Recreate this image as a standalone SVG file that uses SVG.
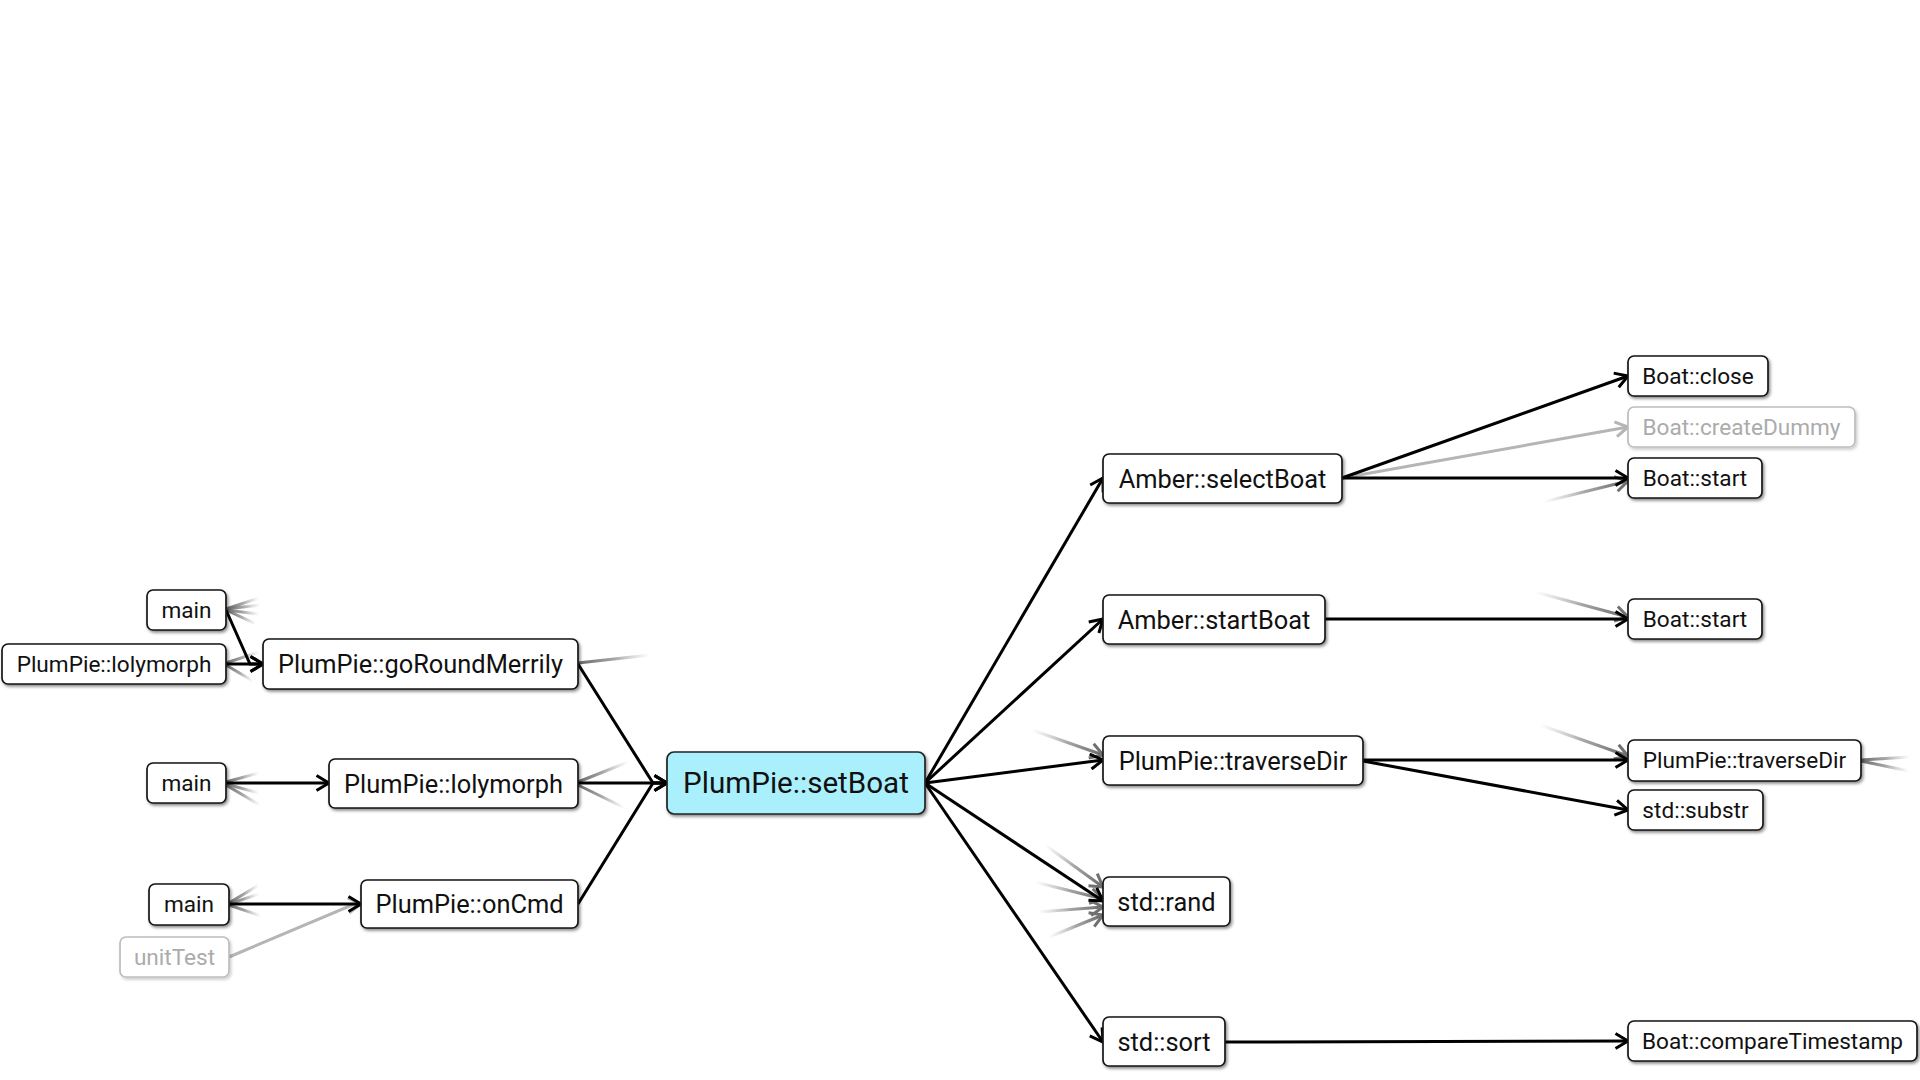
<svg xmlns="http://www.w3.org/2000/svg" width="1920" height="1080" viewBox="0 0 1920 1080">
<defs>
<style>
.n rect{fill:#fff;stroke:#161616;stroke-width:1.7;filter:url(#sh)}
.n text{font-family:Roboto,"Liberation Sans",sans-serif;fill:#111;text-anchor:middle;dominant-baseline:central}
.s text{font-size:22.6px}
.b text{font-size:25.4px}
.c rect{fill:#aaf0fc;stroke:#222}
.c text{font-size:29.6px}
.g rect{stroke:#bdbdbd;filter:url(#shg)}
.g text{fill:#ababab}
.e{stroke:#000;stroke-width:3;fill:none;stroke-linejoin:miter;marker-end:url(#ah)}
.ge{stroke:#b5b5b5;stroke-width:3;fill:none;marker-end:url(#ahg)}
.so{stroke:url(#fadeR);stroke-width:3;fill:none}
.si{stroke:url(#fadeL);stroke-width:3;fill:none;marker-end:url(#ahs)}
</style>
<filter id="sh" x="-10%" y="-20%" width="120%" height="150%">
<feDropShadow dx="1.5" dy="2" stdDeviation="1.4" flood-color="#000" flood-opacity="0.45"/>
</filter>
<filter id="shg" x="-10%" y="-20%" width="120%" height="150%">
<feDropShadow dx="1.5" dy="2" stdDeviation="1.4" flood-color="#000" flood-opacity="0.2"/>
</filter>
<linearGradient id="fadeR" x1="0" y1="0" x2="1" y2="0">
<stop offset="0" stop-color="#666" stop-opacity="1"/>
<stop offset="0.5" stop-color="#888" stop-opacity="0.75"/>
<stop offset="1" stop-color="#aaa" stop-opacity="0"/>
</linearGradient>
<linearGradient id="fadeL" x1="0" y1="0" x2="1" y2="0">
<stop offset="0" stop-color="#aaa" stop-opacity="0"/>
<stop offset="0.5" stop-color="#888" stop-opacity="0.75"/>
<stop offset="1" stop-color="#666" stop-opacity="1"/>
</linearGradient>
<marker id="ah" markerUnits="userSpaceOnUse" viewBox="0 0 16 18" markerWidth="16" markerHeight="18" refX="14" refY="9" orient="auto">
<path d="M1.5,1.5 L14,9 L1.5,16.5" fill="none" stroke="#000" stroke-width="3"/>
</marker>
<marker id="ahg" markerUnits="userSpaceOnUse" viewBox="0 0 16 18" markerWidth="16" markerHeight="18" refX="14" refY="9" orient="auto">
<path d="M1.5,1.5 L14,9 L1.5,16.5" fill="none" stroke="#b5b5b5" stroke-width="3"/>
</marker>
<marker id="ahs" markerUnits="userSpaceOnUse" viewBox="0 0 16 18" markerWidth="16" markerHeight="18" refX="14" refY="9" orient="auto">
<path d="M1.5,1.5 L14,9 L1.5,16.5" fill="none" stroke="#707070" stroke-width="3"/>
</marker>
</defs>
<rect width="1920" height="1080" fill="#fff"/>

<g id="connectors">
<line class="so" x1="226" y1="609" x2="259" y2="598"/>
<line class="so" x1="226" y1="609" x2="260" y2="605"/>
<line class="so" x1="226" y1="610" x2="259" y2="614"/>
<line class="so" x1="226" y1="610" x2="256" y2="624"/>
<line class="so" x1="226" y1="663" x2="259" y2="652"/>
<line class="so" x1="226" y1="665" x2="253" y2="681"/>
<line class="so" x1="226" y1="782" x2="259" y2="773"/>
<line class="so" x1="226" y1="784" x2="259" y2="793"/>
<line class="so" x1="226" y1="785" x2="260" y2="805"/>
<line class="so" x1="229" y1="903" x2="259" y2="885"/>
<line class="so" x1="229" y1="904" x2="259" y2="894"/>
<line class="so" x1="229" y1="905" x2="261" y2="916"/>
<line class="so" x1="578" y1="663" x2="650" y2="655"/>
<line class="so" x1="578" y1="782" x2="628" y2="762"/>
<line class="so" x1="578" y1="785" x2="625" y2="808"/>
<line class="so" x1="1861" y1="760" x2="1910" y2="757"/>
<line class="so" x1="1861" y1="761" x2="1909" y2="771"/>
<line class="si" x1="1032" y1="730" x2="1103" y2="755"/>
<line class="si" x1="1045" y1="845" x2="1103" y2="887"/>
<line class="si" x1="1035" y1="882" x2="1103" y2="899"/>
<line class="si" x1="1038" y1="912" x2="1103" y2="907"/>
<line class="si" x1="1049" y1="937" x2="1103" y2="915"/>
<line class="si" x1="1543" y1="502" x2="1628" y2="481"/>
<line class="si" x1="1535" y1="592" x2="1628" y2="617"/>
<line class="si" x1="1540" y1="725" x2="1628" y2="756"/>
<polyline class="ge" points="229,957 352,905 361,904"/>
<line class="ge" x1="1342" y1="478" x2="1628" y2="427"/>
<polyline class="e" points="226,610 250,664 263,664"/>
<line class="e" x1="226" y1="664" x2="263" y2="664"/>
<line class="e" x1="226" y1="783" x2="329" y2="783"/>
<line class="e" x1="229" y1="904" x2="361" y2="904"/>
<polyline class="e" points="578,664 653,783 667,783"/>
<line class="e" x1="578" y1="783" x2="667" y2="783"/>
<polyline class="e" points="578,904 653,783 667,783"/>
<line class="e" x1="925" y1="783" x2="1103" y2="478"/>
<line class="e" x1="925" y1="783" x2="1103" y2="619"/>
<line class="e" x1="925" y1="783" x2="1103" y2="760"/>
<line class="e" x1="925" y1="783" x2="1103" y2="901"/>
<line class="e" x1="925" y1="783" x2="1103" y2="1042"/>
<line class="e" x1="1342" y1="478" x2="1628" y2="376"/>
<line class="e" x1="1342" y1="478" x2="1628" y2="478"/>
<line class="e" x1="1325" y1="619" x2="1628" y2="619"/>
<line class="e" x1="1363" y1="760" x2="1628" y2="760"/>
<line class="e" x1="1363" y1="761" x2="1628" y2="810"/>
<line class="e" x1="1225" y1="1042" x2="1628" y2="1041"/>
</g>

<g id="n_main1" class="n s"><rect x="147" y="590" width="79" height="40" rx="6"/><text x="186.5" y="610">main</text></g>
<g id="n_lolymorph_left" class="n s"><rect x="2" y="644" width="224" height="40" rx="6"/><text x="114" y="664">PlumPie::lolymorph</text></g>
<g id="n_goRoundMerrily" class="n b"><rect x="263" y="639" width="315" height="50" rx="6"/><text x="420.5" y="664">PlumPie::goRoundMerrily</text></g>
<g id="n_main2" class="n s"><rect x="147" y="763" width="79" height="40" rx="6"/><text x="186.5" y="783">main</text></g>
<g id="n_lolymorph_mid" class="n b"><rect x="329" y="759" width="249" height="49" rx="6"/><text x="453.5" y="783.5">PlumPie::lolymorph</text></g>
<g id="n_main3" class="n s"><rect x="149" y="884" width="80" height="41" rx="6"/><text x="189" y="904.5">main</text></g>
<g id="n_unitTest" class="n s g"><rect x="120" y="937" width="109" height="40" rx="6"/><text x="174.5" y="957">unitTest</text></g>
<g id="n_onCmd" class="n b"><rect x="361" y="880" width="217" height="48" rx="6"/><text x="469.5" y="904">PlumPie::onCmd</text></g>

<g id="n_setBoat" class="n c"><rect x="667" y="752" width="258" height="62" rx="7"/><text x="796" y="783">PlumPie::setBoat</text></g>

<g id="n_selectBoat" class="n b"><rect x="1103" y="454" width="239" height="49" rx="6"/><text x="1222.5" y="478.5">Amber::selectBoat</text></g>
<g id="n_startBoat" class="n b"><rect x="1103" y="595" width="222" height="49" rx="6"/><text x="1214" y="619.5">Amber::startBoat</text></g>
<g id="n_traverseDir_mid" class="n b"><rect x="1103" y="736" width="260" height="49" rx="6"/><text x="1233" y="760.5">PlumPie::traverseDir</text></g>
<g id="n_rand" class="n b"><rect x="1103" y="877" width="127" height="49" rx="6"/><text x="1166.5" y="901.5">std::rand</text></g>
<g id="n_sort" class="n b"><rect x="1103" y="1017" width="122" height="49" rx="6"/><text x="1164" y="1041.5">std::sort</text></g>

<g id="n_close" class="n s"><rect x="1628" y="356" width="140" height="40" rx="6"/><text x="1698" y="376">Boat::close</text></g>
<g id="n_createDummy" class="n s g"><rect x="1628" y="407" width="227" height="40" rx="6"/><text x="1741.5" y="427">Boat::createDummy</text></g>
<g id="n_start1" class="n s"><rect x="1628" y="458" width="134" height="40" rx="6"/><text x="1695" y="478">Boat::start</text></g>
<g id="n_start2" class="n s"><rect x="1628" y="599" width="134" height="40" rx="6"/><text x="1695" y="619">Boat::start</text></g>
<g id="n_traverseDir_right" class="n s"><rect x="1628" y="740" width="233" height="41" rx="6"/><text x="1744.5" y="760.5">PlumPie::traverseDir</text></g>
<g id="n_substr" class="n s"><rect x="1628" y="790" width="135" height="40" rx="6"/><text x="1695.5" y="810">std::substr</text></g>
<g id="n_compareTimestamp" class="n s"><rect x="1628" y="1021" width="289" height="40" rx="6"/><text x="1772.5" y="1041">Boat::compareTimestamp</text></g>
</svg>
